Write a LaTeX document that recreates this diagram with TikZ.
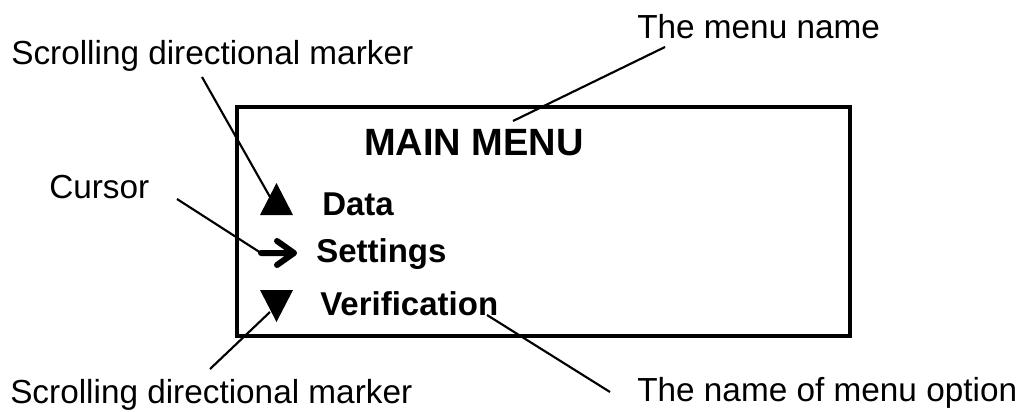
\documentclass[tikz,border=0pt]{standalone}
\usepackage{fontspec}
\setmainfont{Liberation Sans}
\usetikzlibrary{positioning}

\begin{document}
\begin{tikzpicture}[
    x=0.75pt, y=-0.75pt,
    note/.style={anchor=base west, inner sep=0pt, font=\fontsize{25}{30}\selectfont},
    entry/.style={anchor=base west, inner sep=0pt, font=\fontsize{24.75}{30}\selectfont\bfseries},
    screen/.style={draw, line width=3pt, inner sep=0pt, minimum width=459.75pt, minimum height=171.75pt},
    leader/.style={line width=1.6pt},
    marker/.style={fill=black}
  ]
    \useasboundingbox (0,0) rectangle (1023,411);

    \node[screen] (display) at (543.5,221.5) {};

    \node[entry, font=\fontsize{28.5}{30}\selectfont\bfseries] (title) at (364,155) {MAIN MENU};
    \node[entry] (data) at (322,215) {Data};
    \node[entry] (settings) at (316,262) {Settings};
    \node[entry] (verif) at (320,315) {Verification};

    \node[note] (upnote) at (11,64) {Scrolling directional marker};
    \node[note] (namenote) at (637,38) {The menu name};
    \node[note] (cursornote) at (49,198) {Cursor};
    \node[note] (downnote) at (10,403) {Scrolling directional marker};
    \node[note] (optnote) at (637,401) {The name of menu option};

    % markers and cursor
    \coordinate (uptri) at (276.5,199);
    \coordinate (downtri) at (276.5,306);
    \coordinate (cursor) at (261,253);
    \fill[marker] (uptri) ++(-16.5,16) -- ++(33,0) -- ++(-16.5,-32) -- cycle;
    \fill[marker] (downtri) ++(-16.5,-16) -- ++(33,0) -- ++(-16.5,32) -- cycle;
    \draw[line width=4.5pt, line cap=round, line join=round]
      (cursor) -- ++(33,0) ++(-17,-12) -- ++(17,12) -- ++(-17,12);

    % leaders
    \coordinate (upfrom) at (202,77);
    \coordinate (upto) at (270,197);
    \coordinate (namefrom) at (665,47);
    \coordinate (nameto) at (513,121);
    \coordinate (cursorfrom) at (177,199);
    \coordinate (downfrom) at (210,369);
    \coordinate (downto) at (270,312);
    \coordinate (optfrom) at (610,392);
    \coordinate (optto) at (487,315);

    \draw[leader] (upfrom) -- (upto);
    \draw[leader] (namefrom) -- (nameto);
    \draw[leader] (cursorfrom) -- (cursor);
    \draw[leader] (downfrom) -- (downto);
    \draw[leader] (optfrom) -- (optto);
  \end{tikzpicture}
\end{document}
